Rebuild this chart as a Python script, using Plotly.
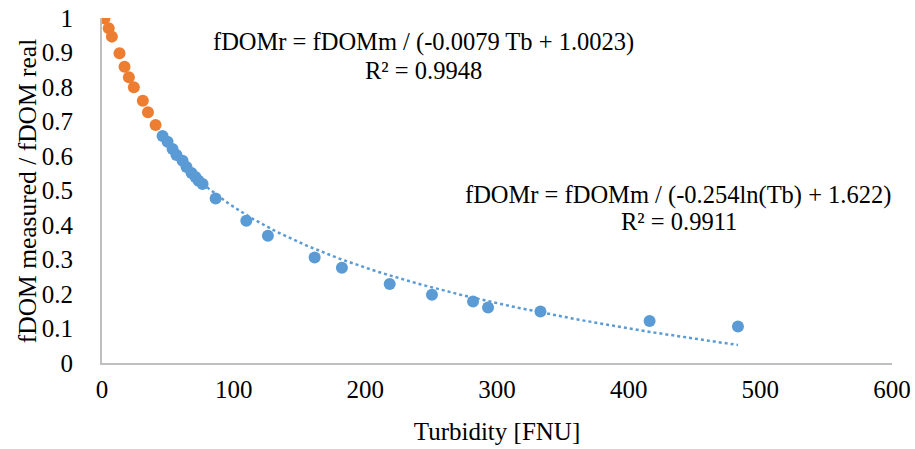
import numpy as np
import plotly.graph_objects as go

# Orange series (low turbidity)
orange_x = [1.9, 5.1, 7.5, 13.3, 17.1, 20.4, 24.2, 31.0, 34.9, 40.7]
orange_y = [0.999, 0.970, 0.946, 0.898, 0.859, 0.828, 0.799, 0.760, 0.727, 0.690]

# Blue series (higher turbidity)
blue_x = [46.0, 49.8, 53.6, 56.6, 61.2, 64.2, 68.0, 71.0, 73.3, 76.4,
          86.3, 109.6, 126.0, 161.5, 182.2, 218.5, 250.6, 281.8, 293.2,
          333.0, 415.9, 483.0]
blue_y = [0.658, 0.641, 0.620, 0.603, 0.586, 0.568, 0.551, 0.539, 0.528, 0.519,
          0.477, 0.412, 0.369, 0.306, 0.276, 0.229, 0.198, 0.178, 0.161,
          0.149, 0.122, 0.106]

# Log trendline coefficients (as printed on the chart)
log_a, log_b = -0.254, 1.622

x_ticks = [0, 100, 200, 300, 400, 500, 600]
y_ticks = [0, 0.1, 0.2, 0.3, 0.4, 0.5, 0.6, 0.7, 0.8, 0.9, 1]
y_tick_text = ["0", "0.1", "0.2", "0.3", "0.4", "0.5", "0.6", "0.7", "0.8", "0.9", "1"]

FONT = "Liberation Serif, Times New Roman, serif"
BLUE = "#5B9BD5"
ORANGE = "#ED7D31"

tx = np.linspace(min(blue_x), max(blue_x), 200)
ty = log_a * np.log(tx) + log_b

fig = go.Figure()
fig.add_trace(go.Scatter(x=tx, y=ty, mode="lines",
                         line=dict(color=BLUE, width=2.5, dash="dot"),
                         hoverinfo="skip", showlegend=False))
fig.add_trace(go.Scatter(x=blue_x, y=blue_y, mode="markers",
                         marker=dict(color=BLUE, size=12, line=dict(width=0)),
                         showlegend=False))
fig.add_trace(go.Scatter(x=orange_x, y=orange_y, mode="markers",
                         marker=dict(color=ORANGE, size=12, line=dict(width=0)),
                         showlegend=False))

ann_font = dict(family=FONT, size=24.5, color="#000000")
ann_lines = [
    ("fDOMr = fDOMm / (-0.0079 Tb + 1.0023)", 0.407, 0.930),
    ("R² = 0.9948", 0.407, 0.849),
    ("fDOMr = fDOMm / (-0.254ln(Tb) + 1.622)", 0.729, 0.487),
    ("R² = 0.9911", 0.731, 0.409),
]
for txt, ax_, ay_ in ann_lines:
    fig.add_annotation(x=ax_, y=ay_, xref="paper", yref="paper", text=txt,
                       showarrow=False, font=ann_font, xanchor="center",
                       yanchor="middle")

# y-axis title as rotated annotation for precise placement
fig.add_annotation(x=-0.094, y=0.5, xref="paper", yref="paper",
                   text="fDOM measured / fDOM real", textangle=-90,
                   showarrow=False, font=dict(family=FONT, size=25.5, color="#000000"),
                   xanchor="center", yanchor="middle")

fig.update_layout(
    width=915, height=449,
    margin=dict(l=102, r=23, t=18, b=86),
    paper_bgcolor="white", plot_bgcolor="white",
    font=dict(family=FONT, size=25, color="#000000"),
    xaxis=dict(range=[0, 600], tickvals=x_ticks, showgrid=False, zeroline=False,
               showline=True, linecolor="#BFBFBF", linewidth=2, ticks="",
               ticklabelstandoff=3, automargin=False,
               title=dict(text="Turbidity [FNU]", font=dict(size=25), standoff=20)),
    yaxis=dict(range=[0, 1], tickvals=y_ticks, ticktext=y_tick_text,
               showgrid=False, zeroline=False,
               showline=True, linecolor="#BFBFBF", linewidth=2, ticks="",
               ticklabelstandoff=22, automargin=False),
)

fig.write_html("out.html")
